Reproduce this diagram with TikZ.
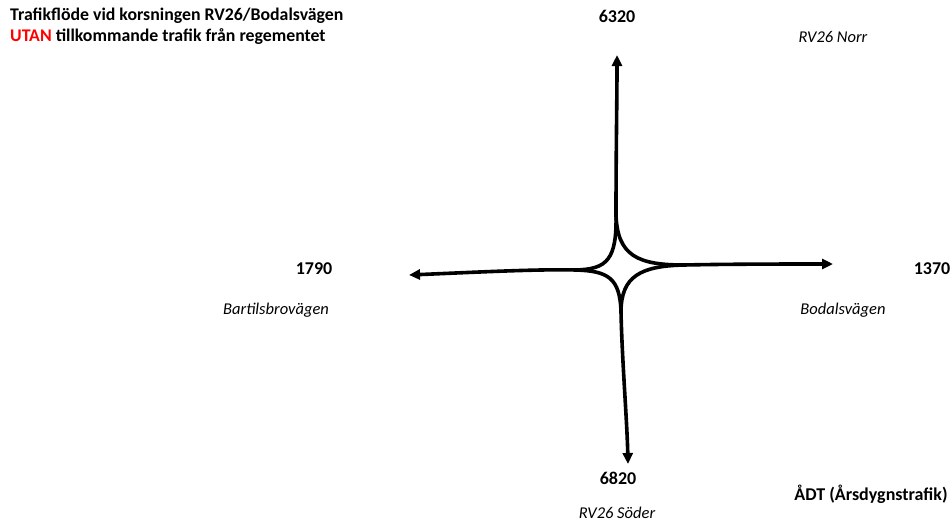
\documentclass[tikz,border=0pt]{standalone}
\usepackage{fontspec}
\setmainfont{Carlito}
\usetikzlibrary{arrows.meta}
\definecolor{utanred}{RGB}{255,0,0}
\begin{document}
\begin{tikzpicture}[x=1pt,y=-1pt,
  road/.style={line width=3.6pt,line cap=round},
  arr/.style={road,-{Triangle[length=11pt,width=10pt]}},
  num/.style={font=\bfseries\fontsize{18}{21}\selectfont,inner sep=0pt},
  lbl/.style={font=\itshape\fontsize{16.5}{19}\selectfont,inner sep=0pt},
  ttl/.style={font=\bfseries\fontsize{17.8}{20}\selectfont,inner sep=0pt,anchor=west}]
\useasboundingbox (0,0) rectangle (952,522);
% junction points
\coordinate (n) at (616,214);
\coordinate (s) at (621,312);
\coordinate (w) at (576,270);
\coordinate (e) at (684,265);
\coordinate (ntip) at (617,55);
\coordinate (stip) at (628,464);
\coordinate (wtip) at (409,275);
\coordinate (etip) at (833,264);
% curves
\draw[road] (n) .. controls (617,260) and (607,269) .. (w);
\draw[road] (n) .. controls (617,256) and (638,265) .. (e);
\draw[road] (s) .. controls (620,278) and (608,271) .. (w);
\draw[road] (s) .. controls (621,276) and (641,266) .. (e);
% arms
\draw[arr] (n) .. controls (616,150) and (617,100) .. (ntip);
\draw[arr] (s) .. controls (622,360) and (627,420) .. (stip);
\draw[arr] (w) .. controls (540,269) and (480,272) .. (wtip);
\draw[arr] (e) .. controls (730,264) and (790,264) .. (etip);
% titles
\node[ttl] (t1) at (10,16) {Trafikflöde vid korsningen RV26/Bodalsvägen};
\node[ttl] (t2) at (10,37) {\textcolor{utanred}{UTAN} tillkommande trafik från regementet};
% numbers and labels
\node[num] (v6320) at (617,16) {6320};
\node[lbl] (rnorr) at (833,37) {RV26 Norr};
\node[num] (v1790) at (314,269) {1790};
\node[lbl] (bart) at (276,310) {Bartilsbrovägen};
\node[num] (v1370) at (932,269) {1370};
\node[lbl] (boda) at (843,310) {Bodalsvägen};
\node[num] (v6820) at (618,478) {6820};
\node[lbl] (rsoder) at (617,513) {RV26 Söder};
\node[num] (adt) at (871,494) {ÅDT (Årsdygnstrafik)};
\end{tikzpicture}
\end{document}
